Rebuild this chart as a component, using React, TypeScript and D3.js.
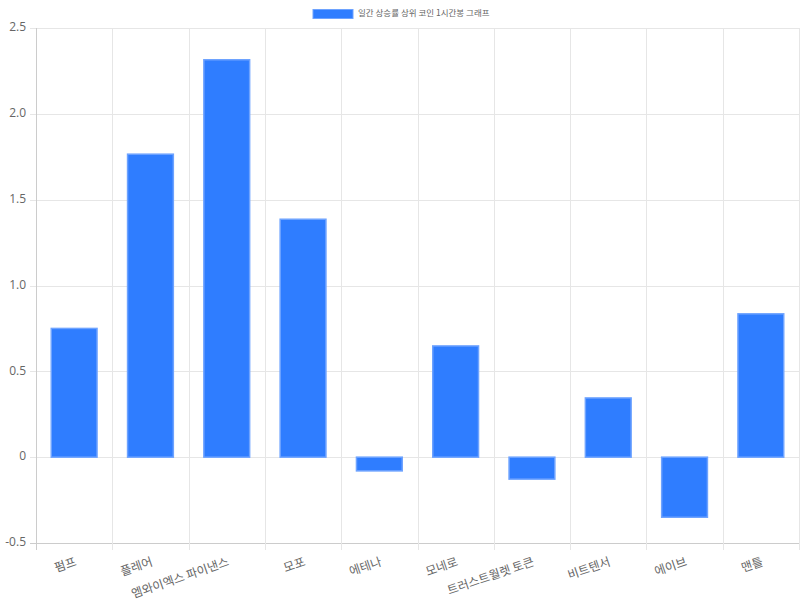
import React from "react";
import * as d3 from "d3";

const categories = ["펌프", "플레어", "엠와이엑스 파이낸스", "모포", "에테나", "모네로", "트러스트월렛 토큰", "비트텐서", "에이브", "맨틀"];
const values = [0.75, 1.765, 2.315, 1.386, -0.08, 0.648, -0.128, 0.345, -0.35, 0.835];
const yTicks = [-0.5, 0, 0.5, 1.0, 1.5, 2.0, 2.5];
const legendLabel = "일간 상승률 상위 코인 1시간봉 그래프";

export default function App() {
  const W = 800, H = 600;
  const left = 36, right = 799, top = 28, bottom = 543;
  const x = d3.scaleBand<string>().domain(categories).range([left, right]).paddingInner(0).paddingOuter(0);
  const y = d3.scaleLinear().domain([-0.5, 2.5]).range([bottom, top]);
  const bw = x.bandwidth() * 0.6;
  const font = "'Open Sans', 'Noto Sans CJK KR', sans-serif";
  const fmt = (v: number) => (v === 0 ? "0" : v.toFixed(1));
  const boundaries = d3.range(categories.length + 1).map((i) => left + x.step() * i);
  return (
    <svg width={W} height={H} style={{ position: "absolute", left: 0, top: 0, background: "#fff" }}>
      {/* legend */}
      <rect x={313} y={9.5} width={40} height={9} fill="#2f7dff" stroke="#6ea3ff" strokeWidth={1} />
      <text x={358} y={14} fontSize={8.5} fill="#666" dominantBaseline="middle" fontFamily="'Noto Sans CJK KR', sans-serif">{legendLabel}</text>
      {/* horizontal grid */}
      {yTicks.map((t) => (
        <g key={t}>
          <line x1={left - 6} x2={right} y1={Math.round(y(t)) + 0.5} y2={Math.round(y(t)) + 0.5} stroke={t === -0.5 ? "#cccccc" : "#e6e6e6"} />
          <text x={left - 10} y={y(t)} textAnchor="end" dominantBaseline="middle" fontSize={12} fill="#666" fontFamily={font}>{fmt(t)}</text>
        </g>
      ))}
      {/* vertical grid */}
      {boundaries.map((b, i) => (
        <line key={i} x1={Math.round(b) + 0.5} x2={Math.round(b) + 0.5} y1={top} y2={bottom + 7} stroke={i === 0 ? "#cccccc" : "#e6e6e6"} />
      ))}
      {/* bars */}
      {categories.map((c, i) => {
        const v = values[i];
        const cx = (x(c) as number) + x.bandwidth() / 2;
        const y0 = y(0), y1 = y(v);
        return (
          <rect key={c} x={cx - bw / 2} y={Math.min(y0, y1)} width={bw} height={Math.abs(y1 - y0)} fill="#2f7dff" stroke="#6ea3ff" strokeWidth={1.5} />
        );
      })}
      {/* x labels */}
      {categories.map((c) => {
        const cx = (x(c) as number) + x.bandwidth() / 2;
        const ay = 562;
        return (
          <text key={c} x={cx + 2} y={ay} textAnchor="end" dominantBaseline="middle" fontSize={12} fill="#666"
            fontFamily="'Noto Sans CJK KR', sans-serif" transform={`rotate(-19 ${cx + 2} ${ay})`}>{c}</text>
        );
      })}
    </svg>
  );
}
